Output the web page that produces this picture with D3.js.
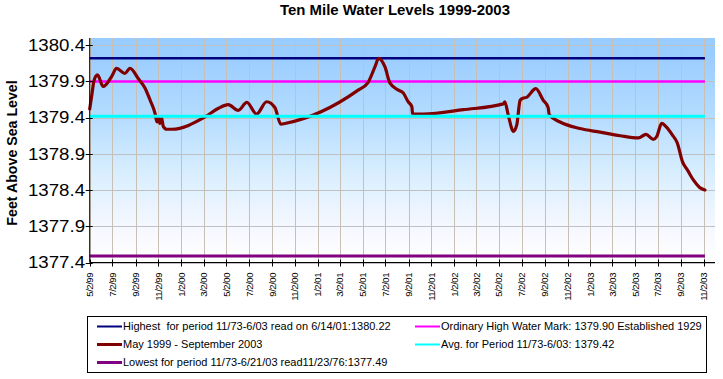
<!DOCTYPE html>
<html><head><meta charset="utf-8">
<script src="https://cdn.jsdelivr.net/npm/d3@7"></script>
<style>body{margin:0;background:#fff}svg{display:block;font-family:Arial,"Liberation Sans",sans-serif}text{white-space:pre}</style>
</head><body><svg id="c" width="723" height="379"></svg>
<script>
const chartTitle = "Ten Mile Water Levels 1999-2003";
const yAxisTitle = "Feet Above Sea Level";

// Main series: May 1999 - September 2003 (date, feet above sea level)
const dates = [
 "5/2/99","5/7/99","5/14/99","5/23/99","6/7/99","6/30/99","7/13/99","8/4/99","8/18/99","9/9/99",
 "9/27/99","10/11/99","10/24/99","10/29/99","11/2/99","11/6/99","11/11/99","11/15/99","11/24/99","12/8/99",
 "3/6/00","4/11/00","5/7/00","6/3/00","6/26/00","7/22/00","8/18/00","9/9/00","9/25/00","10/6/00",
 "4/20/01","5/16/01","6/4/01","6/14/01","7/1/01","7/14/01","8/6/01","8/19/01","9/1/01","9/11/01",
 "9/13/01","10/12/01","1/27/02","5/14/02","5/18/02","5/27/02","6/10/02","6/19/02","6/28/02","7/6/02",
 "7/15/02","8/9/02","8/29/02","9/11/02","9/14/02","10/13/02","12/5/02","1/28/03","3/23/03","5/11/03",
 "5/31/03","6/20/03","6/29/03","7/12/03","7/25/03","8/10/03","8/23/03","9/6/03","9/19/03","10/5/03",
 "10/21/03","11/5/03"
];
const levels = [
 1379.52,1379.69,1379.92,1379.99,1379.83,1379.97,1380.08,1380.01,1380.08,1379.94,
 1379.81,1379.64,1379.46,1379.34,1379.40,1379.32,1379.39,1379.28,1379.24,1379.24,
 1379.41,1379.53,1379.58,1379.50,1379.61,1379.45,1379.62,1379.54,1379.31,1379.32,
 1379.78,1379.88,1380.10,1380.22,1380.10,1379.88,1379.78,1379.74,1379.62,1379.55,
 1379.45,1379.45,1379.51,1379.59,1379.62,1379.44,1379.21,1379.30,1379.64,1379.67,
 1379.68,1379.80,1379.64,1379.54,1379.44,1379.34,1379.25,1379.20,1379.15,1379.12,
 1379.17,1379.10,1379.14,1379.32,1379.27,1379.16,1379.05,1378.79,1378.68,1378.54,
 1378.44,1378.40
];

// Reference levels (constant series over the same period)
const refNames = [
 "Highest  for period 11/73-6/03 read on 6/14/01:1380.22",
 "Ordinary High Water Mark: 1379.90 Established 1929",
 "Avg. for Period 11/73-6/03: 1379.42",
 "Lowest for period 11/73-6/21/03 read11/23/76:1377.49"
];
const refValues = [1380.22, 1379.90, 1379.42, 1377.49];
const mainName = "May 1999 - September 2003";

const xTickLabels = [
 "5/2/99","7/2/99","9/2/99","11/2/99","1/2/00","3/2/00","5/2/00","7/2/00","9/2/00","11/2/00",
 "1/2/01","3/2/01","5/2/01","7/2/01","9/2/01","11/2/01","1/2/02","3/2/02","5/2/02","7/2/02",
 "9/2/02","11/2/02","1/2/03","3/2/03","5/2/03","7/2/03","9/2/03","11/2/03"
];
const yTicks = [1377.4, 1377.9, 1378.4, 1378.9, 1379.4, 1379.9, 1380.4];

const parse = d3.timeParse("%m/%d/%y");
const svg = d3.select("#c");

const L = 89.7, R = 715, T = 38, B = 262.5;
const x = d3.scaleTime().domain([parse("5/2/99"), parse("12/2/03")]).range([L, R]);
const y = d3.scaleLinear().domain([1377.4, 1380.5]).range([B, T]);

// background gradient
const defs = svg.append("defs");
const g = defs.append("linearGradient").attr("id","bg").attr("x1",0).attr("y1",0).attr("x2",0).attr("y2",1);
[[0,"#99CCFF"],[0.06,"#99CCFF"],[0.35,"#B4DCFF"],[0.6,"#D8EEFF"],[0.85,"#F6F8FF"],[1,"#FFFFFF"]]
 .forEach(([o,c]) => g.append("stop").attr("offset",o).attr("stop-color",c));
svg.append("rect").attr("x",L).attr("y",T).attr("width",R-L).attr("height",B-T).attr("fill","url(#bg)");

const xTickDates = xTickLabels.map(parse);

// gridlines
svg.append("g").selectAll("line").data(yTicks).join("line")
 .attr("x1",L).attr("x2",R).attr("y1",d=>Math.round(y(d))+0.5).attr("y2",d=>Math.round(y(d))+0.5)
 .attr("stroke","#C0C0C0").attr("stroke-width",1);
svg.append("g").selectAll("line").data(xTickDates).join("line")
 .attr("x1",d=>Math.round(x(d))+0.5).attr("x2",d=>Math.round(x(d))+0.5).attr("y1",T).attr("y2",B)
 .attr("stroke","#C8C0B4").attr("stroke-width",1);

const startD = parse(dates[0]), endD = parse(dates[dates.length-1]);
const refColors = ["#000080","#FF00FF","#00FFFF","#800080"];
const refWidths = [2.5,2.5,3,3];
function refLine(i){
  svg.append("line").attr("x1",x(startD)).attr("x2",x(endD))
   .attr("y1",y(refValues[i])).attr("y2",y(refValues[i]))
   .attr("stroke",refColors[i]).attr("stroke-width",refWidths[i]);
}
refLine(0); refLine(1);
const line = d3.line().x((d,i)=>x(parse(dates[i]))).y(d=>y(d)).curve(d3.curveMonotoneX);
svg.append("path").datum(levels).attr("d",line).attr("fill","none")
 .attr("stroke","#800000").attr("stroke-width",3.2).attr("stroke-linejoin","round").attr("stroke-linecap","round");
refLine(2); refLine(3);

// axes
const axisG = svg.append("g");
axisG.append("line").attr("x1",L).attr("x2",R).attr("y1",B).attr("y2",B).attr("stroke","#000");
axisG.append("line").attr("x1",L).attr("x2",L).attr("y1",T).attr("y2",B).attr("stroke","#000");
axisG.selectAll(".xt").data(xTickDates).join("line")
 .attr("x1",d=>Math.round(x(d))+0.5).attr("x2",d=>Math.round(x(d))+0.5).attr("y1",B-3).attr("y2",B+4).attr("stroke","#000");
axisG.selectAll(".yt").data(yTicks).join("line")
 .attr("x1",L-4).attr("x2",L+3).attr("y1",d=>Math.round(y(d))+0.5).attr("y2",d=>Math.round(y(d))+0.5).attr("stroke","#000");

svg.append("g").selectAll("text").data(yTicks).join("text")
 .attr("x",85).attr("y",d=>y(d)).attr("dy","0.36em").attr("text-anchor","end")
 .attr("font-size",16).attr("textLength",57).attr("lengthAdjust","spacingAndGlyphs")
 .text(d=>d.toFixed(1));

svg.append("g").selectAll("text").data(xTickLabels).join("text")
 .attr("transform",(d,i)=>`translate(${x(xTickDates[i])},273) rotate(-90)`)
 .attr("text-anchor","end").attr("dy","0.36em").attr("font-size",9.6).attr("letter-spacing",-0.5)
 .text(d=>d);

svg.append("text").attr("x",395).attr("y",14.5).attr("text-anchor","middle")
 .attr("font-weight","bold").attr("font-size",14).attr("textLength",230).attr("lengthAdjust","spacingAndGlyphs")
 .text(chartTitle);
svg.append("text").attr("transform","translate(16.5,153) rotate(-90)").attr("text-anchor","middle")
 .attr("font-weight","bold").attr("font-size",14.2).text(yAxisTitle);

// legend
const lg = svg.append("g");
lg.append("rect").attr("x",87.5).attr("y",316.5).attr("width",619).attr("height",56).attr("fill","#fff").attr("stroke","#000");
const legendItems = [
 {name: refNames[0], color: refColors[0], w: 2, col:0, row:0},
 {name: refNames[1], color: refColors[1], w: 2, col:1, row:0},
 {name: mainName, color: "#800000", w: 3, col:0, row:1},
 {name: refNames[2], color: refColors[2], w: 2, col:1, row:1},
 {name: refNames[3], color: refColors[3], w: 3, col:0, row:2}
];
const colX = [97, 415], rowY = [326.5, 344.5, 362.5];
legendItems.forEach(it => {
  const lx = colX[it.col], ly = rowY[it.row];
  lg.append("line").attr("x1",lx).attr("x2",lx+25).attr("y1",ly).attr("y2",ly).attr("stroke",it.color).attr("stroke-width",it.w);
  lg.append("text").attr("x",lx+26).attr("y",ly).attr("dy","0.36em").attr("font-size",11).text(it.name);
});
</script></body></html>
